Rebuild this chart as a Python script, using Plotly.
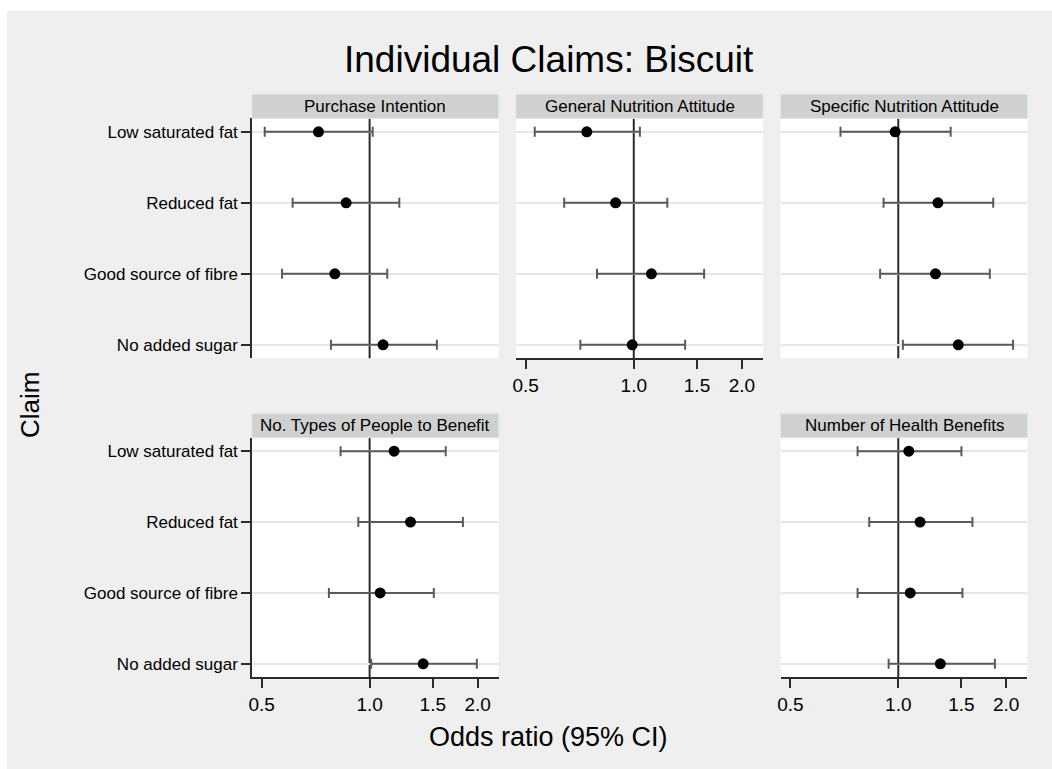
import plotly.graph_objects as go
import math

W, H = 1052, 769

CLAIMS = ["Low saturated fat", "Reduced fat", "Good source of fibre", "No added sugar"]
PANELS = ["Purchase Intention", "General Nutrition Attitude", "Specific Nutrition Attitude",
          "No. Types of People to Benefit", "Number of Health Benefits"]

or_purchase = [0.72, 0.86, 0.80, 1.09]
lo_purchase = [0.51, 0.61, 0.57, 0.78]
hi_purchase = [1.02, 1.21, 1.12, 1.54]

or_general = [0.74, 0.89, 1.12, 0.99]
lo_general = [0.53, 0.64, 0.79, 0.71]
hi_general = [1.04, 1.24, 1.57, 1.39]

or_specific = [0.98, 1.29, 1.27, 1.47]
lo_specific = [0.69, 0.91, 0.89, 1.03]
hi_specific = [1.40, 1.84, 1.80, 2.09]

or_types = [1.17, 1.30, 1.07, 1.41]
lo_types = [0.83, 0.93, 0.77, 1.01]
hi_types = [1.63, 1.82, 1.51, 1.99]

or_benefits = [1.07, 1.15, 1.08, 1.31]
lo_benefits = [0.77, 0.83, 0.77, 0.94]
hi_benefits = [1.50, 1.61, 1.51, 1.86]

X_TICKS = [0.5, 1.0, 1.5, 2.0]
X_TICKTEXT = ["0.5", "1.0", "1.5", "2.0"]
X_MIN, X_MAX = 0.47, 2.29
REF_LINE = 1.0

TITLE = "Individual Claims: Biscuit"
X_TITLE = "Odds ratio (95% CI)"
Y_TITLE = "Claim"

series = [
    (or_purchase, lo_purchase, hi_purchase),
    (or_general, lo_general, hi_general),
    (or_specific, lo_specific, hi_specific),
    (or_types, lo_types, hi_types),
    (or_benefits, lo_benefits, hi_benefits),
]
positions = [(0, 0), (0, 1), (0, 2), (1, 0), (1, 2)]

COLS = [(252, 498.7), (516, 763), (780.7, 1027.3)]
ROWS = [(118.3, 358.3), (437.7, 677.3)]
STRIP_H = 24

FONT = "Liberation Sans, Arial, sans-serif"
BG = "#efefef"
AXC = "#2b2b2b"

def px(x):
    return x / W

def py(y):
    return 1 - y / H

fig = go.Figure()
shapes = []
annotations = []

# white outer border on top and left
shapes.append(dict(type="rect", xref="paper", yref="paper", x0=0, x1=1, y0=py(11), y1=1,
                   fillcolor="white", line=dict(width=0)))
shapes.append(dict(type="rect", xref="paper", yref="paper", x0=0, x1=px(7), y0=0, y1=1,
                   fillcolor="white", line=dict(width=0)))

for i, ((r, c), (orv, lo, hi)) in enumerate(zip(positions, series)):
    k = "" if i == 0 else str(i + 1)
    xa, ya = "xaxis" + k, "yaxis" + k
    xr, yr = "x" + k, "y" + k
    plus = [h - o for h, o in zip(hi, orv)]
    minus = [o - l for o, l in zip(orv, lo)]
    fig.add_trace(go.Scatter(
        x=orv, y=list(range(len(CLAIMS))), mode="markers",
        marker=dict(color="black", size=11, symbol="circle"),
        error_x=dict(type="data", symmetric=False, array=plus, arrayminus=minus,
                     color="#5a5a5a", thickness=2, width=5),
        xaxis=xr, yaxis=yr, showlegend=False, cliponaxis=False))
    x0, x1 = COLS[c]
    y0, y1 = ROWS[r]
    show_x = (r == 1) or (r == 0 and c == 1)
    show_y = (c == 0)
    fig.layout[xa] = dict(
        domain=[px(x0), px(x1)], anchor=yr, type="log", automargin=False,
        range=[math.log10(X_MIN), math.log10(X_MAX)],
        tickvals=X_TICKS, ticktext=X_TICKTEXT,
        showticklabels=show_x, ticks="outside" if show_x else "",
        ticklen=9, tickwidth=1.5, tickcolor=AXC,
        showline=show_x, linecolor=AXC, linewidth=1.5,
        showgrid=False, zeroline=False,
        tickfont=dict(family=FONT, size=19, color="black"),
    )
    fig.layout[ya] = dict(
        domain=[py(y1), py(y0)], anchor=xr, automargin=False,
        range=[3.19, -0.19],
        tickvals=list(range(len(CLAIMS))), ticktext=CLAIMS,
        showticklabels=show_y, ticks="outside" if show_y else "",
        ticklen=9, tickwidth=1.5, tickcolor=AXC,
        showline=show_y, linecolor=AXC, linewidth=1.5,
        showgrid=True, gridcolor="#e6e6e6", gridwidth=2, zeroline=False,
        tickfont=dict(family=FONT, size=17, color="black"),
    )
    # reference line at OR = 1
    shapes.append(dict(type="line", xref=xr, yref=yr + " domain", x0=REF_LINE, x1=REF_LINE,
                       y0=0, y1=1, line=dict(color=AXC, width=2), layer="below"))
    # panel strip
    shapes.append(dict(type="rect", xref="paper", yref="paper",
                       x0=px(x0), x1=px(x1), y0=py(y0), y1=py(y0 - STRIP_H),
                       fillcolor="#d0d0d0", line=dict(color="#d8e6ee", width=1)))
    annotations.append(dict(text=PANELS[i], xref="paper", yref="paper",
                            x=px((x0 + x1) / 2), y=py(y0 - STRIP_H / 2),
                            xanchor="center", yanchor="middle", showarrow=False,
                            font=dict(family=FONT, size=17, color="black")))

annotations.append(dict(text=TITLE, xref="paper", yref="paper", x=px(548.5), y=py(59),
                        xanchor="center", yanchor="middle", showarrow=False,
                        font=dict(family=FONT, size=37, color="black")))
annotations.append(dict(text=X_TITLE, xref="paper", yref="paper", x=px(548), y=py(737),
                        xanchor="center", yanchor="middle", showarrow=False,
                        font=dict(family=FONT, size=27, color="black")))
annotations.append(dict(text=Y_TITLE, xref="paper", yref="paper", x=px(30), y=py(405),
                        xanchor="center", yanchor="middle", showarrow=False, textangle=-90,
                        font=dict(family=FONT, size=26, color="black")))

fig.update_layout(
    template="none",
    width=W, height=H, margin=dict(l=0, r=0, t=0, b=0, pad=0), autosize=False,
    paper_bgcolor=BG, plot_bgcolor="white",
    shapes=shapes, annotations=annotations,
    font=dict(family=FONT, color="black"),
)

fig.write_html("out.html")
